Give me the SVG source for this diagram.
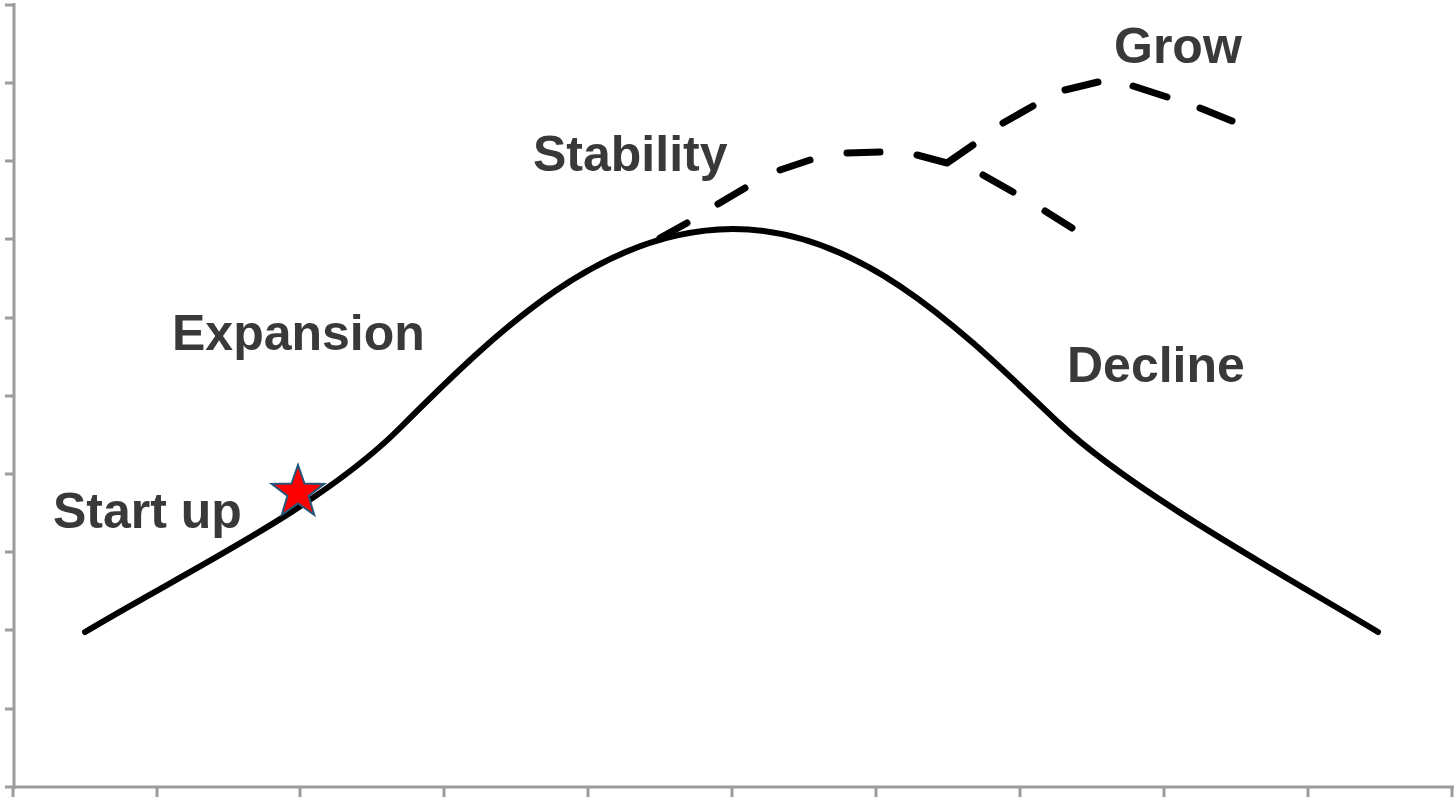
<svg xmlns="http://www.w3.org/2000/svg" width="1456" height="799" viewBox="0 0 1456 799">
<style>
.axis{stroke:#9c9c9c;stroke-width:3;fill:none}
.curve{stroke:#000;stroke-width:6;fill:none;stroke-linecap:round;stroke-linejoin:round}
.dash{stroke:#000;stroke-width:7;fill:none;stroke-linecap:round;stroke-linejoin:round}
.lbl{font-family:"Liberation Sans",Arial,sans-serif;font-weight:bold;font-size:50px;fill:#3b3839}
</style>
<rect width="1456" height="799" fill="#fff"/>
<g id="axes">
<path class="axis" d="M14 3V789M5 787H1454"/>
<path class="axis" d="M5 5H14M5 83H14M5 161H14M5 239H14M5 318H14M5 396H14M5 474H14M5 552H14M5 630H14M5 709H14"/>
<path class="axis" d="M13 787V797M157 787V797M300 787V797M444 787V797M588 787V797M732 787V797M876 787V797M1020 787V797M1164 787V797M1308 787V797M1452 787V797"/>
</g>
<g id="connectors">
<path id="lifecycle" class="curve" d="M85 632C185 572 320 508 400 428C500 328 603 229 733 229C863 229 965 334 1060 424C1130 490 1278 572 1378 632"/>
<g id="stability-path">
<path class="dash" d="M660 238L687 223"/>
<path class="dash" d="M718 204L745 188"/>
<path class="dash" d="M780 170L810 160"/>
<path class="dash" d="M847 153L880 152"/>
<path class="dash" d="M917 155L947 163L973 145"/>
</g>
<g id="grow-path">
<path class="dash" d="M1003 123L1033 106"/>
<path class="dash" d="M1065 90L1098 82"/>
<path class="dash" d="M1133 86L1167 97"/>
<path class="dash" d="M1200 108L1232 121"/>
</g>
<g id="fall-path">
<path class="dash" d="M983 175L1013 192"/>
<path class="dash" d="M1045 211L1072 228"/>
</g>
</g>
<g id="star">
<polygon points="298,465 304.5,483.6 324.2,484 308.5,495.9 314.2,514.7 298,503.5 281.8,514.7 287.5,495.9 271.8,484 291.5,483.6" fill="#ff0000" stroke="#24577a" stroke-width="2" stroke-linejoin="miter"/>
</g>
<g id="label-startup"><text class="lbl" x="53" y="528">Start up</text></g>
<g id="label-expansion"><text class="lbl" x="172" y="350">Expansion</text></g>
<g id="label-stability"><text class="lbl" x="533" y="171">Stability</text></g>
<g id="label-grow"><text class="lbl" x="1114" y="63">Grow</text></g>
<g id="label-decline"><text class="lbl" x="1067" y="382">Decline</text></g>
</svg>
